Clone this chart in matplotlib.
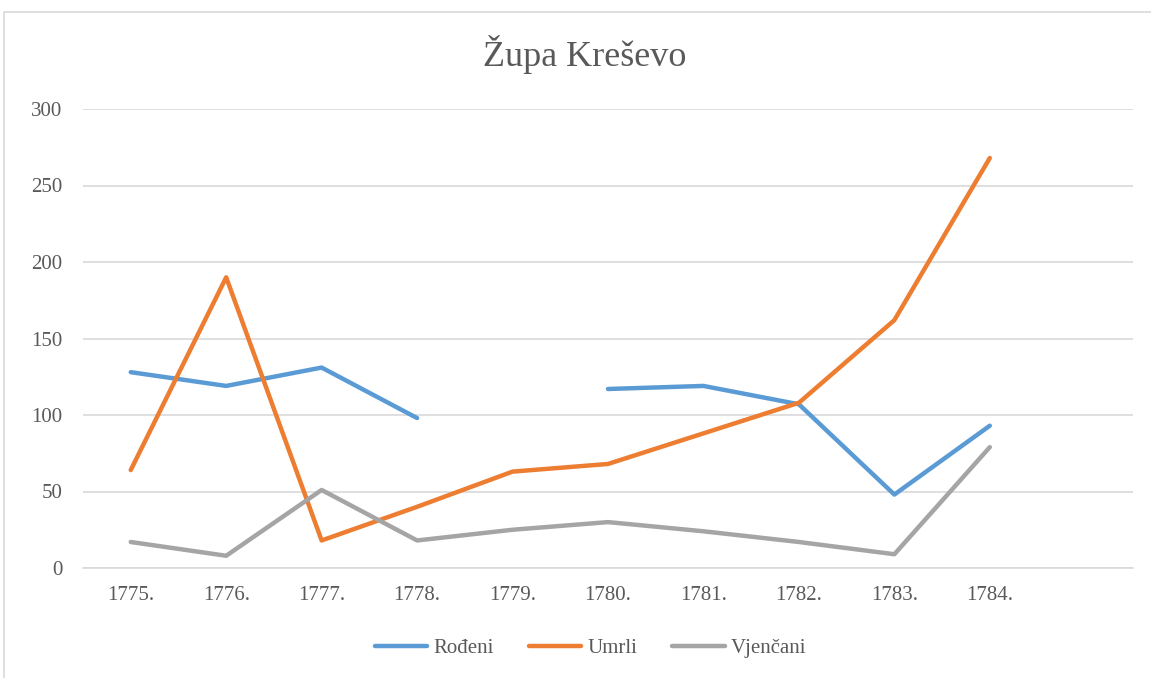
import numpy as np
import matplotlib.pyplot as plt
from matplotlib.patches import Rectangle

godine = ['1775.', '1776.', '1777.', '1778.', '1779.', '1780.', '1781.', '1782.', '1783.', '1784.', '']
rodeni = [128, 119, 131, 98, np.nan, 117, 119, 107, 48, 93, np.nan]
umrli = [64, 190, 18, 40, 63, 68, 88, 108, 162, 268, np.nan]
vjencani = [17, 8, 51, 18, 25, 30, 24, 17, 9, 79, np.nan]

plt.rcParams['font.family'] = ['Liberation Serif', 'DejaVu Serif']
siva = '#595959'

fig = plt.figure(figsize=(11.51, 6.78), dpi=100)
ax = fig.add_axes([83/1151, 1 - 568/678, (1133 - 83)/1151, (568 - 109)/678])

# okvir grafikona
fig.patches.append(Rectangle((4/1151, -0.01), 1.0, 1 - 12/678 + 0.01, transform=fig.transFigure,
                             fill=False, edgecolor='#d9d9d9', lw=1.2))

x = np.arange(len(godine))
ax.plot(x, rodeni, color='#5B9BD5', lw=3.2, solid_capstyle='round', label='Rođeni')
ax.plot(x, umrli, color='#ED7D31', lw=3.2, solid_capstyle='round', label='Umrli')
ax.plot(x, vjencani, color='#A5A5A5', lw=3.2, solid_capstyle='round', label='Vjenčani')

ax.set_xlim(-0.5, len(godine) - 0.5)
ax.set_ylim(0, 300)
ax.set_yticks(np.arange(0, 301, 50))
ax.set_xticks(x)
ax.set_xticklabels(godine)
ax.grid(axis='y', color='#d9d9d9', lw=1.2)
ax.set_axisbelow(True)
for s in ['top', 'right', 'left']:
    ax.spines[s].set_visible(False)
ax.spines['bottom'].set_color('#d9d9d9')
ax.spines['bottom'].set_linewidth(1.2)
ax.tick_params(axis='both', length=0, labelsize=15, colors=siva)
ax.tick_params(axis='y', pad=15)
ax.tick_params(axis='x', pad=13)

fig.text(0.508, 1 - 55/678, 'Župa Kreševo', ha='center', va='center', fontsize=26, color=siva)

leg = fig.legend(loc='center', bbox_to_anchor=(0.513, 1 - 648/678), ncol=3, frameon=False,
                 fontsize=15, handlelength=2.5, columnspacing=1.7, handletextpad=0.3)
for t in leg.get_texts():
    t.set_color(siva)

fig.savefig('out.png', dpi=100, facecolor='white')
